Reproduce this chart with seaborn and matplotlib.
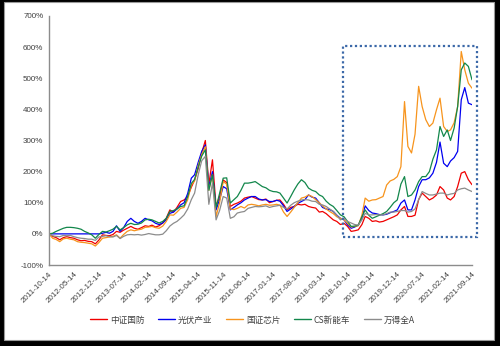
import pandas as pd
import matplotlib
matplotlib.use("Agg")
import matplotlib.pyplot as plt
import matplotlib.ticker as mticker
import matplotlib.dates as mdates
from matplotlib.patches import Rectangle
from matplotlib.lines import Line2D
import seaborn as sns

# ---- data: cumulative return (%) since 2011-10-14, sampled monthly ----
start_date = "2011-10-14"

tick_labels = [
    "2011-10-14", "2012-05-14", "2012-12-14", "2013-07-14", "2014-02-14",
    "2014-09-14", "2015-04-14", "2015-11-14", "2016-06-14", "2017-01-14",
    "2017-08-14", "2018-03-14", "2018-10-14", "2019-05-14", "2019-12-14",
    "2020-07-14", "2021-02-14", "2021-09-14",
]

series_names = ["中证国防", "光伏产业", "国证芯片", "CS新能车", "万得全A"]
series_colors = ["#F00000", "#0000F0", "#F7941D", "#12874B", "#8C8C8C"]

defense = [
    0, -8, -12, -19, -12, -9, -12, -14, -19, -22,
    -21, -24, -25, -32, -20, -3, -5, -6, -2, 8,
    5, 12, 18, 24, 18, 15, 20, 26, 24, 28,
    22, 26, 35, 50, 77, 70, 85, 104, 109, 120,
    150, 173, 210, 260, 300, 160, 238, 88, 120, 173,
    165, 88, 95, 99, 105, 115, 118, 120, 115, 110,
    109, 112, 100, 104, 108, 109, 95, 77, 85, 88,
    95, 93, 95, 88, 85, 83, 70, 72, 65, 55,
    45, 40, 30, 34, 24, 8, 10, 13, 30, 56,
    50, 40, 42, 38, 40, 45, 50, 55, 61, 77,
    88, 56, 56, 60, 110, 131, 120, 109, 115, 125,
    152, 141, 115, 109, 120, 152, 195, 200, 174, 158,
]

photovoltaic = [
    0, 0, 0, 0, 0, 0, 0, 0, 0, 0,
    0, 0, 0, 0, 0, 2, 5, 2, 8, 26,
    8, 20, 40, 50, 40, 34, 40, 50, 45, 42,
    34, 30, 35, 45, 66, 70, 80, 93, 100, 130,
    179, 190, 230, 265, 286, 150, 200, 77, 110, 152,
    145, 77, 85, 93, 100, 109, 115, 120, 120, 112,
    109, 110, 104, 104, 108, 105, 90, 72, 80, 88,
    98, 104, 110, 125, 118, 115, 100, 85, 80, 78,
    72, 60, 50, 45, 29, 18, 22, 28, 50, 90,
    75, 67, 65, 62, 61, 63, 68, 72, 77, 99,
    109, 77, 77, 109, 152, 174, 174, 180, 195, 230,
    295, 227, 216, 234, 245, 265, 431, 470, 420, 415,
]

chips = [
    0, -14, -18, -25, -16, -14, -17, -19, -25, -27,
    -28, -30, -32, -39, -28, -14, -12, -10, -8, -3,
    -14, -2, 8, 13, 10, 13, 15, 21, 22, 24,
    20, 18, 25, 40, 61, 60, 70, 82, 85, 110,
    157, 170, 220, 255, 280, 140, 190, 56, 100, 168,
    160, 80, 78, 82, 88, 83, 93, 95, 93, 90,
    93, 95, 92, 93, 95, 92, 70, 56, 70, 85,
    100, 115, 118, 125, 120, 110, 100, 90, 80, 72,
    65, 55, 50, 45, 34, 22, 24, 26, 60, 115,
    105, 109, 110, 115, 120, 157, 170, 175, 184, 216,
    425, 281, 260, 320, 474, 409, 367, 345, 356, 399,
    436, 345, 329, 334, 357, 409, 586, 527, 484, 468,
]

new_energy_vehicle = [
    0, 2, 8, 13, 18, 21, 21, 20, 18, 15,
    8, 3, -3, -14, -2, 8, 6, 10, 15, 24,
    13, 20, 29, 34, 30, 31, 35, 45, 47, 45,
    40, 35, 40, 50, 72, 75, 80, 88, 90, 120,
    162, 175, 215, 250, 270, 140, 190, 85, 130, 179,
    180, 99, 110, 120, 140, 163, 163, 165, 168, 160,
    152, 148, 140, 136, 135, 131, 115, 99, 120, 141,
    160, 174, 165, 147, 140, 136, 125, 120, 105, 95,
    88, 75, 61, 55, 40, 24, 25, 28, 55, 77,
    60, 50, 55, 60, 65, 72, 85, 100, 109, 160,
    184, 120, 125, 141, 168, 184, 184, 200, 240, 270,
    345, 313, 334, 300, 340, 409, 527, 549, 538, 495,
]

wind_all_a = [
    0, -6, -8, -9, -5, -6, -5, -9, -12, -14,
    -15, -17, -17, -21, -10, -8, -6, -9, -10, -5,
    -15, -8, -3, -2, -3, -2, -4, -2, 1, -1,
    -3, -3, -1, 10, 25, 34, 40, 50, 61, 80,
    110, 131, 190, 235, 249, 95, 163, 45, 75, 120,
    115, 50, 55, 67, 70, 72, 82, 85, 88, 87,
    88, 90, 85, 88, 90, 92, 85, 80, 92, 100,
    105, 109, 110, 109, 105, 104, 95, 93, 88, 80,
    72, 60, 45, 50, 40, 35, 30, 28, 45, 66,
    61, 61, 62, 61, 61, 65, 70, 70, 72, 75,
    75, 70, 72, 80, 110, 136, 130, 125, 125, 128,
    131, 131, 125, 128, 130, 141, 145, 147, 141, 136,
]

value_lists = [defense, photovoltaic, chips, new_energy_vehicle, wind_all_a]

n_points = len(defense)
dates = pd.date_range(start_date, periods=n_points, freq=pd.DateOffset(months=1))

frames = []
for name, vals in zip(series_names, value_lists):
    frames.append(pd.DataFrame({"date": dates, "value": vals, "index": name}))
df = pd.concat(frames, ignore_index=True)

# ---- figure ----
sns.set_theme(style="white")
plt.rcParams["font.family"] = ["Liberation Sans", "Noto Sans CJK SC", "DejaVu Sans"]

W, H = 500, 346
fig = plt.figure(figsize=(W / 100, H / 100), dpi=100, facecolor="black")

# white sheet with a thin grey edge inside the dark frame
sheet = Rectangle((4 / W, 1 - 339.5 / H), 490 / W, 337.5 / H,
                  transform=fig.transFigure, facecolor="white",
                  edgecolor="#9a9a9a", linewidth=0.8, zorder=0)
fig.add_artist(sheet)

ax = fig.add_axes([49 / W, 1 - 265 / H, 423 / W, 249 / H])
ax.set_facecolor("none")

sns.lineplot(data=df, x="date", y="value", hue="index",
             hue_order=series_names, palette=series_colors,
             linewidth=0.9, legend=False, ax=ax)

ax.set_xlim(pd.Timestamp(tick_labels[0]), pd.Timestamp(tick_labels[-1]))
ax.set_ylim(-100, 700)
ax.yaxis.set_major_locator(mticker.MultipleLocator(100))
ax.yaxis.set_major_formatter(mticker.FuncFormatter(lambda v, _: f"{v:.0f}%"))

ax.set_xticks(pd.to_datetime(tick_labels))
ax.set_xticklabels(tick_labels, rotation=45, ha="right",
                   rotation_mode="anchor")

text_color = "#404040"
ax.tick_params(axis="both", which="major", labelsize=5.8, colors="#7f7f7f",
               labelcolor=text_color, length=2.5, width=0.8, direction="out")
ax.tick_params(axis="x", pad=1.5)
ax.tick_params(axis="y", pad=1.5)
ax.set_xlabel("")
ax.set_ylabel("")

for side in ("top", "right"):
    ax.spines[side].set_visible(False)
for side in ("left", "bottom"):
    ax.spines[side].set_color("#8c8c8c")
    ax.spines[side].set_linewidth(1.0)

# dotted highlight box over the recent period
bx0 = mdates.date2num(pd.Timestamp("2018-09-08"))
bx1 = mdates.date2num(pd.Timestamp("2021-10-26"))
box = Rectangle((bx0, -10), bx1 - bx0, 614, fill=False,
                edgecolor="#3B68A8", linestyle=(0, (1, 1.2)),
                linewidth=1.6, clip_on=False, zorder=5)
ax.add_patch(box)

# legend
handles = [Line2D([0], [0], color=c, linewidth=1.0) for c in series_colors]
fig.legend(handles, series_names, loc="center", bbox_to_anchor=(0.505, 1 - 320 / H),
           ncol=5, frameon=False, handlelength=2.0,
           handletextpad=0.3, columnspacing=1.6, labelcolor=text_color,
           prop={"family": ["Noto Sans CJK SC", "DejaVu Sans"], "size": 6.2})

fig.savefig("out.png", dpi=100, facecolor=fig.get_facecolor())
